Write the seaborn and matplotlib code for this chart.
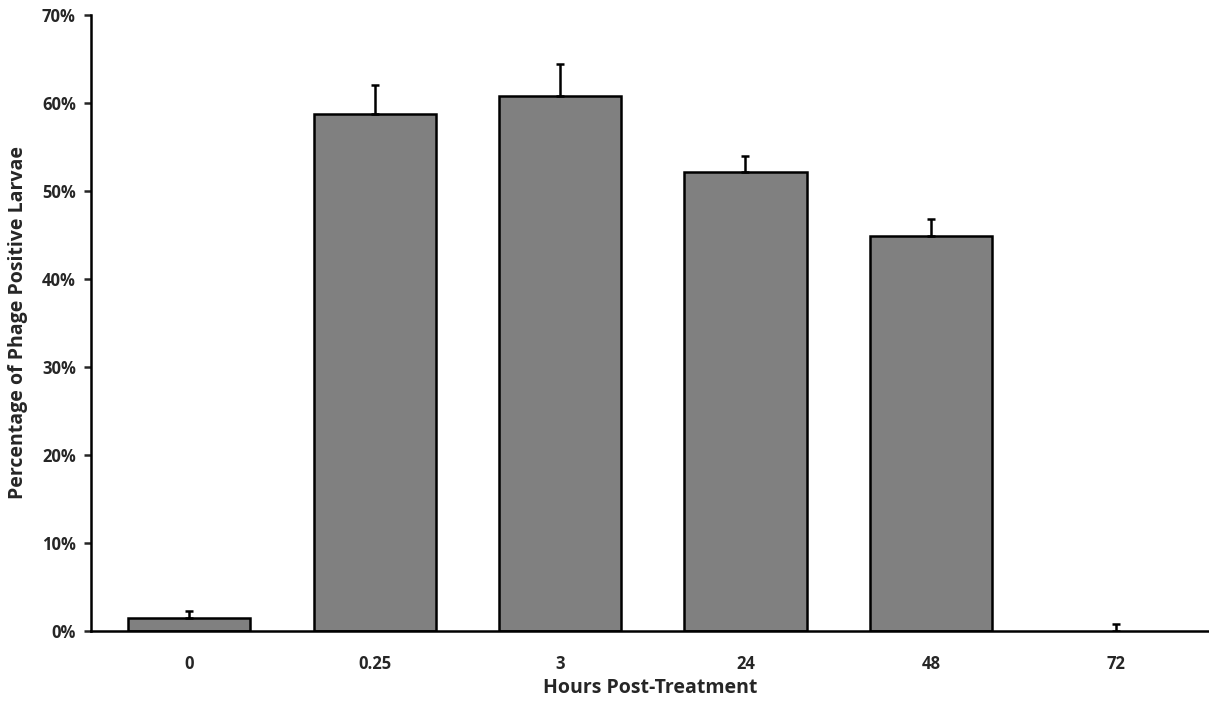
import numpy as np
import pandas as pd
import matplotlib
matplotlib.use("Agg")
import matplotlib.pyplot as plt
import seaborn as sns
from matplotlib.ticker import FuncFormatter

# data
hours = ["0", "0.25", "3", "24", "48", "72"]
pct_positive = [1.5, 58.7, 60.8, 52.2, 44.9, 0.0]
pct_err = [0.8, 3.3, 3.6, 1.8, 1.9, 0.8]

df = pd.DataFrame({"hours": hours, "pct": pct_positive})

sns.set_style("white")
plt.rcParams["font.family"] = ["Open Sans", "DejaVu Sans"]
plt.rcParams["font.weight"] = "bold"

fig = plt.figure(figsize=(12.09, 7.04), dpi=100)
ax = fig.add_axes([0.0753, 0.1037, 0.9247, 0.875])

sns.barplot(data=df, x="hours", y="pct", order=hours, color="#808080",
            edgecolor="black", linewidth=1.8, width=0.66, saturation=1,
            errorbar=None, ax=ax)

# zero-height bars show no outline in the original
for patch in ax.patches:
    if patch.get_height() == 0:
        patch.set_linewidth(0)

# upper error bars only
xpos = np.arange(len(hours))
ax.errorbar(xpos, pct_positive, yerr=[np.zeros(len(hours)), pct_err],
            fmt="none", ecolor="black", elinewidth=1.8, capsize=3, capthick=1.8,
            zorder=3)

ax.set_ylim(0, 70)
ax.set_xlim(-0.53, 5.5)
ax.set_yticks(np.arange(0, 71, 10))
ax.yaxis.set_major_formatter(FuncFormatter(lambda v, _: f"{v:.0f}%"))

sns.despine(ax=ax)
for s in ["left", "bottom"]:
    ax.spines[s].set_linewidth(1.8)
    ax.spines[s].set_color("black")

ax.tick_params(axis="y", direction="out", length=5, width=1.8, left=True,
               labelsize=12, pad=6)
ax.tick_params(axis="x", length=0, labelsize=12, pad=17)
for lbl in ax.get_xticklabels() + ax.get_yticklabels():
    lbl.set_fontweight("bold")

ax.set_xlabel("Hours Post-Treatment", fontsize=14, fontweight="bold", labelpad=4)
ax.set_ylabel("Percentage of Phage Positive Larvae", fontsize=14,
              fontweight="bold", labelpad=10)

fig.savefig("out.png", dpi=100, facecolor="white")
